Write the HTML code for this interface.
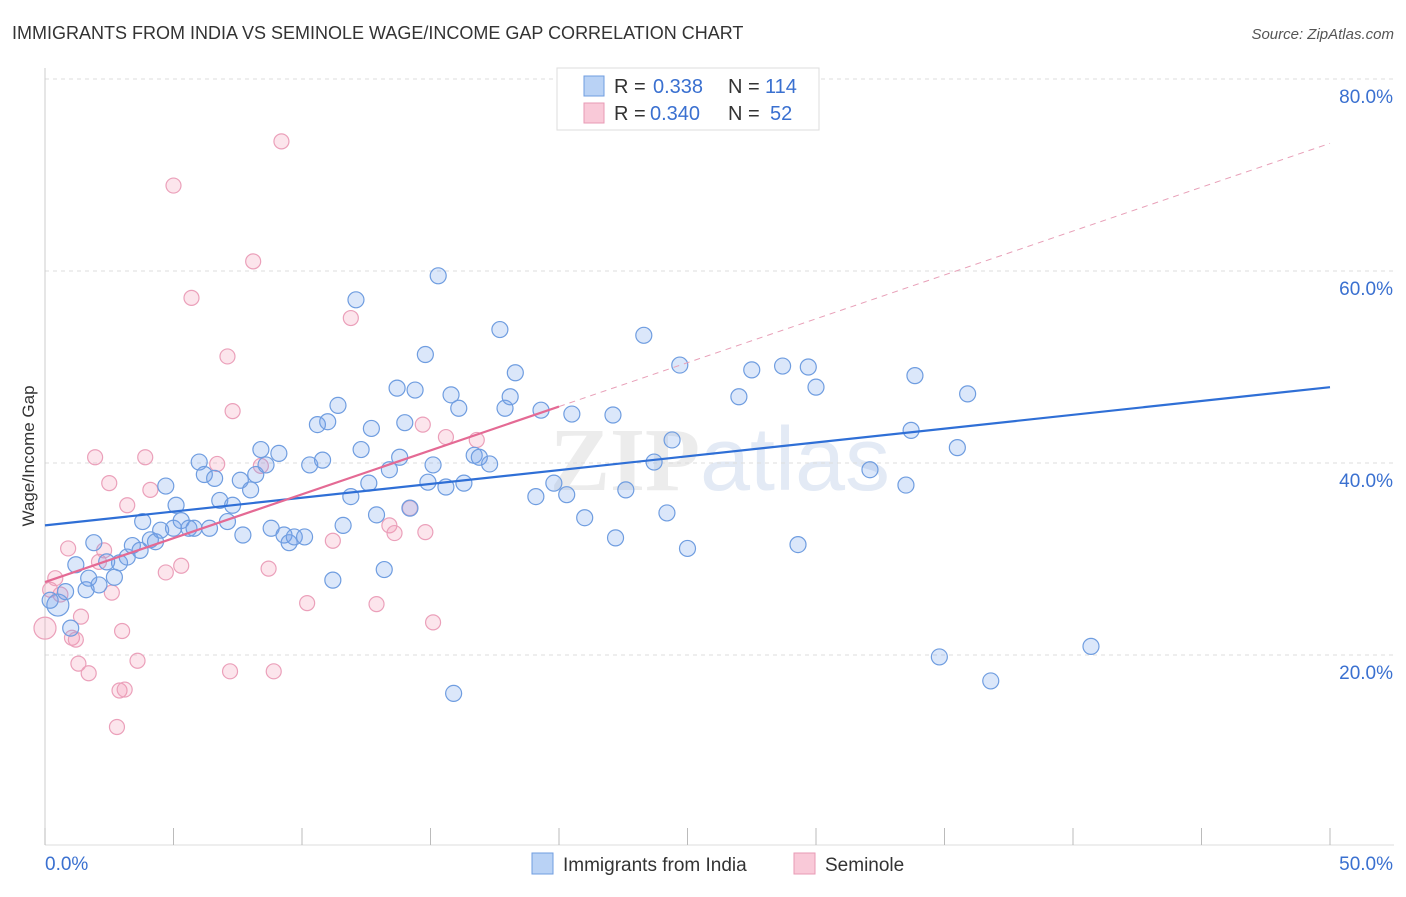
<!DOCTYPE html>
<html><head><meta charset="utf-8"><style>
body{margin:0;background:#fff;font-family:"Liberation Sans",sans-serif}
svg text{font-family:"Liberation Sans",sans-serif}
</style></head><body>
<svg id="chart" width="1406" height="892" xmlns="http://www.w3.org/2000/svg">
<text x="12" y="39" font-size="18" fill="#333">IMMIGRANTS FROM INDIA VS SEMINOLE WAGE/INCOME GAP CORRELATION CHART</text>
<text x="1394" y="39" font-size="15" fill="#555" text-anchor="end" font-style="italic">Source: ZipAtlas.com</text>
<text x="720" y="490" font-size="90" fill="#ececec" text-anchor="middle" font-weight="bold"><tspan font-family="Liberation Serif">ZIP</tspan><tspan fill="#e3eaf5" font-weight="normal">atlas</tspan></text>
<text transform="translate(34,456) rotate(-90)" font-size="17" fill="#333" text-anchor="middle">Wage/Income Gap</text>
<g id="grid"></g><g id="marks"></g>
<g>
<rect x="557" y="68" width="262" height="62" fill="#fff" stroke="#ddd"/>
<rect x="584" y="76" width="20" height="20" fill="#b9d2f5" stroke="#6f9de0"/>
<text x="614" y="93" font-size="20" fill="#333">R =</text>
<text x="653" y="93" font-size="20" fill="#3a70d0">0.338</text>
<text x="728" y="93" font-size="20" fill="#333">N =</text>
<text x="765" y="93" font-size="20" fill="#3a70d0">114</text>
<rect x="584" y="103" width="20" height="20" fill="#f9c9d8" stroke="#e89ab5"/>
<text x="614" y="120" font-size="20" fill="#333">R =</text>
<text x="650" y="120" font-size="20" fill="#3a70d0">0.340</text>
<text x="728" y="120" font-size="20" fill="#333">N =</text>
<text x="770" y="120" font-size="20" fill="#3a70d0">52</text>
</g>
<g>
<rect x="532" y="853" width="21" height="21" fill="#b9d2f5" stroke="#6f9de0"/>
<text x="563" y="871" font-size="19" fill="#333">Immigrants from India</text>
<rect x="794" y="853" width="21" height="21" fill="#f9c9d8" stroke="#e89ab5"/>
<text x="825" y="871" font-size="19" fill="#333">Seminole</text>
</g>
</svg>
<script>
const yTicks=[20,40,60,80];
const xTickLabels=["0.0%","50.0%"];
const blueX=[0.5,0.2,0.8,1.0,1.2,1.6,1.7,1.9,2.1,2.4,2.7,2.9,3.2,3.4,3.7,3.8,4.1,4.3,4.5,4.7,5.0,5.1,5.3,5.6,5.8,6.0,6.2,6.4,6.6,6.8,7.1,7.3,7.6,7.7,8.0,8.2,8.4,8.6,8.8,9.1,9.3,9.5,9.7,10.1,10.3,10.6,10.8,11.0,11.2,11.4,11.6,11.9,12.1,12.3,12.6,12.7,12.9,13.2,13.4,13.7,13.8,14.0,14.2,14.4,14.8,14.9,15.1,15.3,15.6,15.8,15.9,16.1,16.3,16.7,16.9,17.3,17.7,17.9,18.1,18.3,19.1,19.3,19.8,20.3,20.5,21.0,22.1,22.2,22.6,23.3,23.7,24.2,24.4,24.7,25.0,27.0,27.5,28.7,29.3,29.7,30.0,32.1,33.5,33.7,33.85,34.8,35.5,35.9,36.8,40.7];
const blueY=[25.2,25.7,26.6,22.8,29.4,26.8,28.0,31.7,27.3,29.7,28.1,29.6,30.2,31.4,30.9,33.9,32.0,31.8,33.0,37.6,33.2,35.6,34.0,33.2,33.2,40.1,38.8,33.2,38.4,36.1,33.9,35.6,38.2,32.5,37.2,38.8,41.4,39.8,33.2,41.0,32.5,31.7,32.3,32.3,39.8,44.0,40.3,44.3,27.8,46.0,33.5,36.5,57.0,41.4,37.9,43.6,34.6,28.9,39.3,47.8,40.6,44.2,35.3,47.6,51.3,38.0,39.8,59.5,37.5,47.1,16.0,45.7,37.9,40.8,40.6,39.9,53.9,45.7,46.9,49.4,36.5,45.5,37.9,36.7,45.1,34.3,45.0,32.2,37.2,53.3,40.1,34.8,42.4,50.2,31.1,46.9,49.7,50.1,31.5,50.0,47.9,39.3,37.7,43.4,49.1,19.8,41.6,47.2,17.3,20.9];
const pinkX=[0,0.2,0.4,0.6,0.9,1.05,1.2,1.3,1.4,1.7,1.95,2.1,2.3,2.5,2.6,2.8,2.9,3.0,3.1,3.2,3.6,3.9,4.1,4.7,5.0,5.3,5.7,6.7,7.1,7.2,7.3,8.1,8.4,8.7,8.9,9.2,10.2,11.2,11.9,12.9,13.4,13.6,14.2,14.7,14.8,15.1,15.6,16.8];
const pinkY=[22.8,26.8,28.0,26.3,31.1,21.8,21.6,19.1,24.0,18.1,40.6,29.7,30.9,37.9,26.5,12.5,16.3,22.5,16.4,35.6,19.4,40.6,37.2,28.6,68.9,29.3,57.2,39.9,51.1,18.3,45.4,61.0,39.7,29.0,18.3,73.5,25.4,31.9,55.1,25.3,33.5,32.7,35.3,44.0,32.8,23.4,42.7,42.4];
const blueTrend=[33.5,47.9];
const pinkTrend=[27.6,73.3];
const pinkSolidEnd=20;
const NS="http://www.w3.org/2000/svg";
const X=v=>45+v/50*1285, Y=v=>847-v/20*192;
function mk(t,a,p){const e=document.createElementNS(NS,t);for(const k in a)e.setAttribute(k,a[k]);p.appendChild(e);return e;}
const g=document.getElementById('grid'),m=document.getElementById('marks');
yTicks.forEach(t=>{const l=mk('line',{x1:45,x2:1394,y1:Y(t),y2:Y(t),stroke:'#ddd','stroke-dasharray':'4,4'},g);


const tx=mk('text',{x:1393,y:Y(t)+24,'font-size':19,fill:'#3a70d0','text-anchor':'end'},g);tx.textContent=t.toFixed(1)+'%';

});
mk('line',{x1:45,x2:45,y1:68,y2:845,stroke:'#ccc'},g);
mk('line',{x1:45,x2:1394,y1:845,y2:845,stroke:'#ddd'},g);
for(let i=0;i<=10;i++){const l=mk('line',{x1:X(i*5),x2:X(i*5),y1:828,y2:845,stroke:'#bbb'},g);

}
[[0,'start',45],[50,'end',1393]].forEach((d,i)=>{const tx=mk('text',{x:d[2],y:870,'font-size':19,fill:'#3a70d0','text-anchor':d[1]},g);tx.textContent=xTickLabels[i];

});
pinkX.forEach((x,i)=>{const c=mk('circle',{cx:X(x),cy:Y(pinkY[i]),r:i==0?11:7.5,fill:'rgba(244,150,180,0.25)',stroke:'#eba0ba','stroke-width':1.2},m);

});
blueX.forEach((x,i)=>{const c=mk('circle',{cx:X(x),cy:Y(blueY[i]),r:i==0?11:8,fill:'rgba(110,160,235,0.25)',stroke:'#6f9de0','stroke-width':1.2},m);

});
const pt=x=>pinkTrend[0]+(pinkTrend[1]-pinkTrend[0])*x/50;
let l=mk('line',{x1:X(0),y1:Y(blueTrend[0]),x2:X(50),y2:Y(blueTrend[1]),stroke:'#2f6fd6','stroke-width':2.2},m);


l=mk('line',{x1:X(pinkSolidEnd),y1:Y(pt(pinkSolidEnd)),x2:X(50),y2:Y(pt(50)),stroke:'#e8a0b8','stroke-width':1,'stroke-dasharray':'6,5'},m);


l=mk('line',{x1:X(0),y1:Y(pt(0)),x2:X(pinkSolidEnd),y2:Y(pt(pinkSolidEnd)),stroke:'#e46a94','stroke-width':2.2},m);


</script>
</body></html>
